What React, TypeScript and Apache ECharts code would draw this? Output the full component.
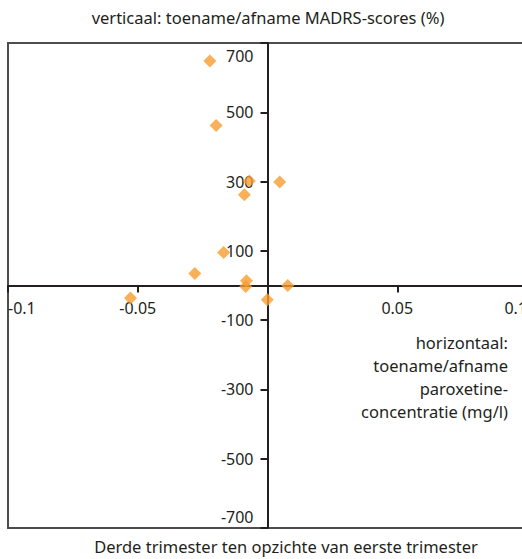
import React, { useEffect, useRef } from "react";
import * as echarts from "echarts";

const xValues: number[] = [-0.0222, -0.0198, -0.007, 0.0047, -0.0089, -0.0169, -0.028, -0.0081, -0.0084, 0.0078, -0.0001, -0.0528];
const yValues: number[] = [648, 462, 302, 299, 262, 95, 35, 14, -3, 0, -41, -36];
const xTicks: number[] = [-0.1, -0.05, 0, 0.05, 0.1];
const yTicks: number[] = [-700, -500, -300, -100, 100, 300, 500, 700];
const verticalTitle = "verticaal: toename/afname MADRS-scores (%)";
const horizontalTitle = "horizontaal:\ntoename/afname\nparoxetine-\nconcentratie (mg/l)";
const bottomTitle = "Derde trimester ten opzichte van eerste trimester";

const FONT = "'Noto Sans', sans-serif";
const TEXT = "#231f20";
const CHART_W = 540;
const CHART_H = 559;
const GRID = { left: 8, top: 43, right: 13, bottom: 31 };

export default function App() {
  const ref = useRef<HTMLDivElement>(null);
  useEffect(() => {
    if (!ref.current) return;
    const chart = echarts.init(ref.current, null, { renderer: "svg" });
    const points = xValues.map((x, i) => [x, yValues[i]]);
    const gridW = CHART_W - GRID.left - GRID.right;
    const gridH = CHART_H - GRID.top - GRID.bottom;
    const yMin = yTicks[0];
    const yMax = yTicks[yTicks.length - 1];
    const labelRich = { color: TEXT, fontFamily: FONT, fontSize: 16 };
    chart.setOption({
      animation: false,
      backgroundColor: "#ffffff",
      textStyle: { fontFamily: FONT },
      grid: {
        ...GRID,
        show: true,
        borderColor: "#4d4d4d",
        borderWidth: 2,
        containLabel: false,
      },
      xAxis: {
        type: "value",
        min: xTicks[0],
        max: xTicks[xTicks.length - 1],
        interval: 0.05,
        position: "bottom",
        offset: -gridH / 2,
        splitLine: { show: false },
        axisLine: { onZero: false, lineStyle: { color: TEXT, width: 2 } },
        axisTick: { show: true, length: 7, lineStyle: { color: TEXT, width: 2 } },
        axisLabel: {
          color: TEXT,
          fontFamily: FONT,
          fontSize: 16,
          margin: 14,
          alignMinLabel: "left",
          alignMaxLabel: "right",
          formatter: (v: number) => (Math.abs(v) < 1e-9 ? "" : String(Math.round(v * 100) / 100)),
        },
      },
      yAxis: {
        type: "value",
        min: yMin,
        max: yMax,
        interval: 200,
        position: "left",
        offset: -gridW / 2,
        splitLine: { show: false },
        axisLine: { onZero: false, lineStyle: { color: TEXT, width: 2 } },
        axisTick: { show: true, length: 7, lineStyle: { color: TEXT, width: 2 } },
        axisLabel: {
          color: TEXT,
          fontFamily: FONT,
          fontSize: 16,
          margin: 14,
          verticalAlignMinLabel: "bottom",
          verticalAlignMaxLabel: "top",
          formatter: (v: number) =>
            v === yMax ? `{top|${v}}` : v === yMin ? `{bot|${v}}` : String(v),
          rich: {
            top: { ...labelRich, padding: [5, 0, 0, 0] },
            bot: { ...labelRich, padding: [0, 0, 3, 0] },
          },
        },
      },
      series: [
        {
          type: "scatter",
          data: points,
          symbol: "diamond",
          symbolSize: 13,
          itemStyle: { color: "#f89c30" },
          z: 1,
        },
      ],
      graphic: [
        {
          type: "text",
          x: 268,
          y: 9,
          style: { text: verticalTitle, fill: TEXT, font: `16.5px ${FONT}`, textAlign: "center", textVerticalAlign: "top" },
        },
        {
          type: "text",
          x: 286,
          y: 538,
          style: { text: bottomTitle, fill: TEXT, font: `16.5px ${FONT}`, textAlign: "center", textVerticalAlign: "top" },
        },
        {
          type: "text",
          x: 508,
          y: 331,
          style: {
            text: horizontalTitle,
            fill: TEXT,
            font: `16.5px ${FONT}`,
            textAlign: "right",
            textVerticalAlign: "top",
            lineHeight: 23,
          },
        },
      ],
    });
    return () => chart.dispose();
  }, []);
  return (
    <div style={{ position: "fixed", left: 0, top: 0, width: 522, height: 559, overflow: "hidden", background: "#fff" }}>
      <div ref={ref} style={{ width: CHART_W, height: CHART_H }} />
    </div>
  );
}
